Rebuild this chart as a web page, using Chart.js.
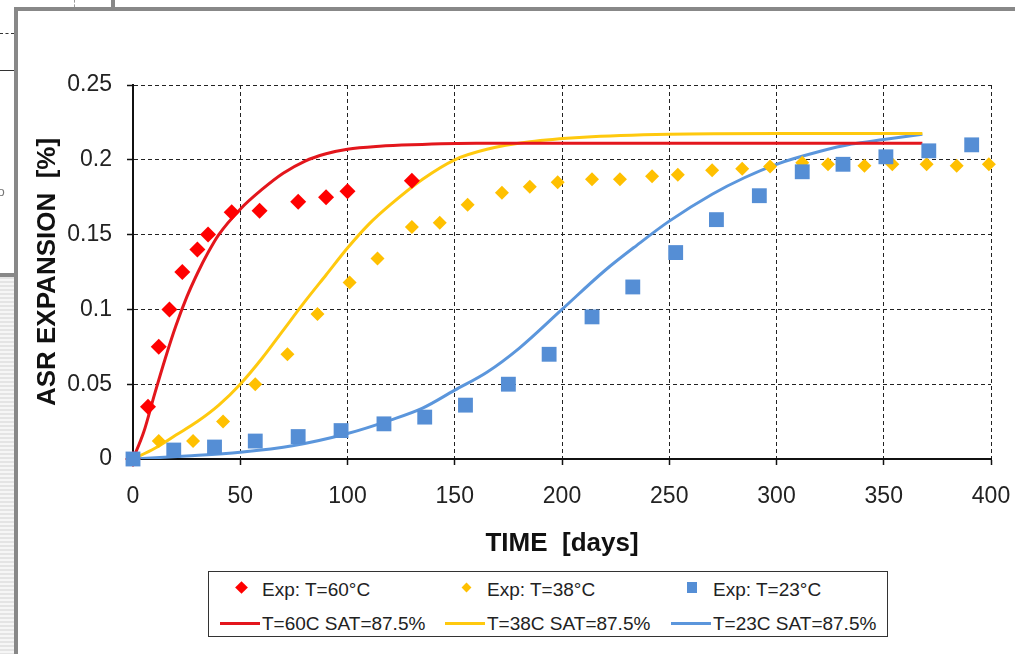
<!DOCTYPE html>
<html>
<head>
<meta charset="utf-8">
<title>ASR expansion</title>
<script src="https://cdn.jsdelivr.net/npm/chart.js@4.4.0/dist/chart.umd.min.js"></script>
<style>
  html, body { margin: 0; padding: 0; background: #fff; }
  #wrap { position: relative; width: 1015px; height: 654px; overflow: hidden;
          font-family: "Liberation Sans", Arial, sans-serif; background: #fff; }
  #c { position: absolute; left: 0; top: 0; }
  .bar { position: absolute; background: #888; }
  #strip { position: absolute; left: 0; top: 277px; width: 14px; height: 377px;
           background: repeating-linear-gradient(#e4e4e4 0 2px, #f6f6f6 2px 4px); }
  #frag { position: absolute; left: -9px; top: 184px; font-size: 13px; color: #777; }
  #legend { position: absolute; left: 208px; top: 571px; width: 678px; height: 64px;
            border: 1.5px solid #333; background: #fff; }
  .lg-text { position: absolute; font-size: 19px; color: #222; white-space: nowrap; line-height: 1; }
  .lg-mark { position: absolute; }
</style>
</head>
<body>
<div id="wrap">
  <canvas id="c" width="1015" height="654"></canvas>

  <!-- surrounding window frame -->
  <div class="bar" style="left:14px; top:7px; width:1001px; height:4px;"></div>
  <div class="bar" style="left:14px; top:7px; width:4px; height:647px;"></div>
  <div class="bar" style="left:0; top:273px; width:14px; height:4px;"></div>
  <div class="bar" style="left:111px; top:0; width:4px; height:7px;"></div>
  <div style="position:absolute; left:74px; top:0; height:7px; border-left:1px dashed #999;"></div>
  <div style="position:absolute; left:0; top:33px; width:14px; border-top:1px dashed #333;"></div>
  <div style="position:absolute; left:0; top:70px; width:14px; border-top:1px solid #333;"></div>
  <div id="frag">tio</div>
  <div id="strip"></div>

  <div id="legend"></div>
</div>

<script>
/* measured points, days vs expansion [%] */
var expDays60 = [0, 7, 12, 17, 23, 30, 35, 46, 59, 77, 90, 100, 130];
var exp60     = [0, 0.035, 0.075, 0.100, 0.125, 0.140, 0.150, 0.165, 0.166, 0.172, 0.175, 0.179, 0.186];

var expDays38 = [0, 12, 28, 42, 57, 72, 86, 101, 114, 130, 143, 156, 172, 185, 198, 214, 227,
                 242, 254, 270, 284, 297, 312, 324, 341, 354, 370, 384, 399];
var exp38     = [0, 0.012, 0.012, 0.025, 0.050, 0.070, 0.097, 0.118, 0.134, 0.155, 0.158, 0.170, 0.178,
                 0.182, 0.185, 0.187, 0.187, 0.189, 0.190, 0.193, 0.194, 0.1955, 0.198, 0.197, 0.196,
                 0.197, 0.197, 0.196, 0.197];

var expDays23 = [0, 19, 38, 57, 77, 97, 117, 136, 155, 175, 194, 214, 233, 253, 272, 292, 312, 331, 351, 371, 391];
var exp23     = [0, 0.006, 0.008, 0.012, 0.015, 0.019, 0.0235, 0.028, 0.036, 0.050, 0.070, 0.095, 0.115,
                 0.138, 0.160, 0.176, 0.192, 0.197, 0.202, 0.206, 0.210];

/* model curves, SAT = 87.5% */
var modelDays60 = [0, 5, 10, 15, 20, 25, 30, 35, 40, 50, 60, 70, 80, 90, 100, 115, 130, 160, 200, 368];
var model60     = [0, 0.018, 0.043, 0.067, 0.089, 0.108, 0.124, 0.138, 0.150, 0.167, 0.180, 0.191,
                   0.199, 0.204, 0.207, 0.209, 0.210, 0.211, 0.211, 0.211];

var modelDays38 = [0, 10, 20, 30, 40, 50, 60, 70, 80, 90, 100, 110, 120, 135, 150, 165, 185, 210, 250, 300, 368];
var model38     = [0, 0.007, 0.016, 0.025, 0.036, 0.050, 0.067, 0.086, 0.105, 0.123, 0.141, 0.157,
                   0.170, 0.187, 0.200, 0.207, 0.212, 0.215, 0.217, 0.2175, 0.2175];

var modelDays23 = [0, 25, 50, 75, 100, 120, 135, 150, 165, 180, 200, 220, 235, 250, 270, 285, 300, 320, 335, 350, 368];
var model23     = [0, 0.002, 0.0045, 0.009, 0.017, 0.026, 0.034, 0.046, 0.058, 0.074, 0.100, 0.126,
                   0.143, 0.159, 0.177, 0.188, 0.197, 0.2055, 0.2105, 0.2135, 0.217];

var seriesLabels = ['Exp: T=60°C', 'Exp: T=38°C', 'Exp: T=23°C',
                    'T=60C SAT=87.5%', 'T=38C SAT=87.5%', 'T=23C SAT=87.5%'];
var xTicks = [0, 50, 100, 150, 200, 250, 300, 350, 400];
var yTicks = [0, 0.05, 0.1, 0.15, 0.2, 0.25];

var RED = '#ff0000', RED_LINE = '#e3161c';
var YEL = '#ffc000', YEL_LINE = '#ffc90e';
var BLU = '#558ed5', BLU_LINE = '#5b96dc';

function pts(xs, ys) {
  return xs.map(function(x, i) { return { x: x, y: ys[i] }; });
}

// lower order is painted later, i.e. on top
function expSet(label, xs, ys, color, style, r, order) {
  return { label: label, data: pts(xs, ys), showLine: false, clip: false, order: order,
           pointStyle: style, pointRadius: r, pointHoverRadius: r,
           backgroundColor: color, borderColor: color, borderWidth: 0 };
}

function modelSet(label, xs, ys, color) {
  return { label: label, data: pts(xs, ys), showLine: true, pointRadius: 0, order: 3,
           borderColor: color, backgroundColor: color, borderWidth: 3,
           cubicInterpolationMode: 'monotone', fill: false };
}

var datasets = [
  expSet(seriesLabels[0], expDays60, exp60, RED, 'rectRot', 8, 1),
  expSet(seriesLabels[1], expDays38, exp38, YEL, 'rectRot', 7, 2),
  expSet(seriesLabels[2], expDays23, exp23, BLU, 'rect', 10.5, 0),
  modelSet(seriesLabels[3], modelDays60, model60, RED_LINE),
  modelSet(seriesLabels[4], modelDays38, model38, YEL_LINE),
  modelSet(seriesLabels[5], modelDays23, model23, BLU_LINE)
];

var tickFont = { family: '"Liberation Sans", Arial, sans-serif', size: 23 };
var titleFont = { family: '"Liberation Sans", Arial, sans-serif', size: 26, weight: 'bold' };

var gridOpts = { color: '#222', lineWidth: 1, tickLength: 6, tickColor: '#111',
                 tickWidth: 1.5, tickBorderDash: [] };

new Chart(document.getElementById('c'), {
  type: 'scatter',
  data: { datasets: datasets },
  options: {
    responsive: false,
    animation: false,
    layout: { padding: { left: 0, top: 85, right: 24, bottom: 95 } },
    plugins: { legend: { display: false }, tooltip: { enabled: false } },
    scales: {
      x: {
        type: 'linear', min: 0, max: 400,
        afterBuildTicks: function(s) { s.ticks = xTicks.map(function(v) { return { value: v }; }); },
        afterFit: function(s) {
          s.height = 100;
          // edge labels fit inside the layout padding already
          s.paddingLeft = 0;
          s.paddingRight = 0;
        },
        grid: gridOpts,
        border: { display: true, color: '#111', width: 2, dash: [4, 3] },
        ticks: { color: '#222', font: tickFont, padding: 18, maxRotation: 0 },
        title: { display: true, text: 'TIME  [days]', color: '#111', font: titleFont,
                 padding: { top: 0, bottom: 0 } }
      },
      y: {
        type: 'linear', min: 0, max: 0.25,
        afterBuildTicks: function(s) { s.ticks = yTicks.map(function(v) { return { value: v }; }); },
        afterFit: function(s) { s.width = 133; },
        grid: gridOpts,
        border: { display: true, color: '#111', width: 2, dash: [4, 3] },
        ticks: { color: '#222', font: tickFont, padding: 15,
                 callback: function(v) { return String(+v.toFixed(2)); } },
        title: { display: true, text: 'ASR EXPANSION  [%]', color: '#111', font: titleFont,
                 padding: { top: 32, bottom: 0 } }
      }
    }
  }
});

/* two-row legend under the plot */
(function buildLegend() {
  var box = document.getElementById('legend');
  var colX = [11, 236, 462];
  var rowY = [17, 51];
  datasets.forEach(function(ds, i) {
    var col = i % 3, row = Math.floor(i / 3);
    var x = colX[col], y = rowY[row];
    var mark = document.createElement('div');
    mark.className = 'lg-mark';
    if (ds.showLine) {
      mark.style.cssText = 'left:' + x + 'px;top:' + (y - 1.5) + 'px;width:40px;height:3px;background:' + ds.borderColor;
    } else if (ds.pointStyle === 'rect') {
      mark.style.cssText = 'left:' + (x + 16) + 'px;top:' + (y - 7) + 'px;width:10px;height:11px;background:' + ds.backgroundColor;
    } else {
      var s = i === 0 ? 9 : 7;
      mark.style.cssText = 'left:' + (x + 21 - s / 2) + 'px;top:' + (y - 2 - s / 2) + 'px;width:' + s + 'px;height:' + s +
                           'px;transform:rotate(45deg);background:' + ds.backgroundColor;
    }
    box.appendChild(mark);
    var t = document.createElement('div');
    t.className = 'lg-text';
    t.textContent = ds.label;
    t.style.left = (x + 42) + 'px';
    t.style.top = (y - 9) + 'px';
    box.appendChild(t);
  });
})();
</script>
</body>
</html>
